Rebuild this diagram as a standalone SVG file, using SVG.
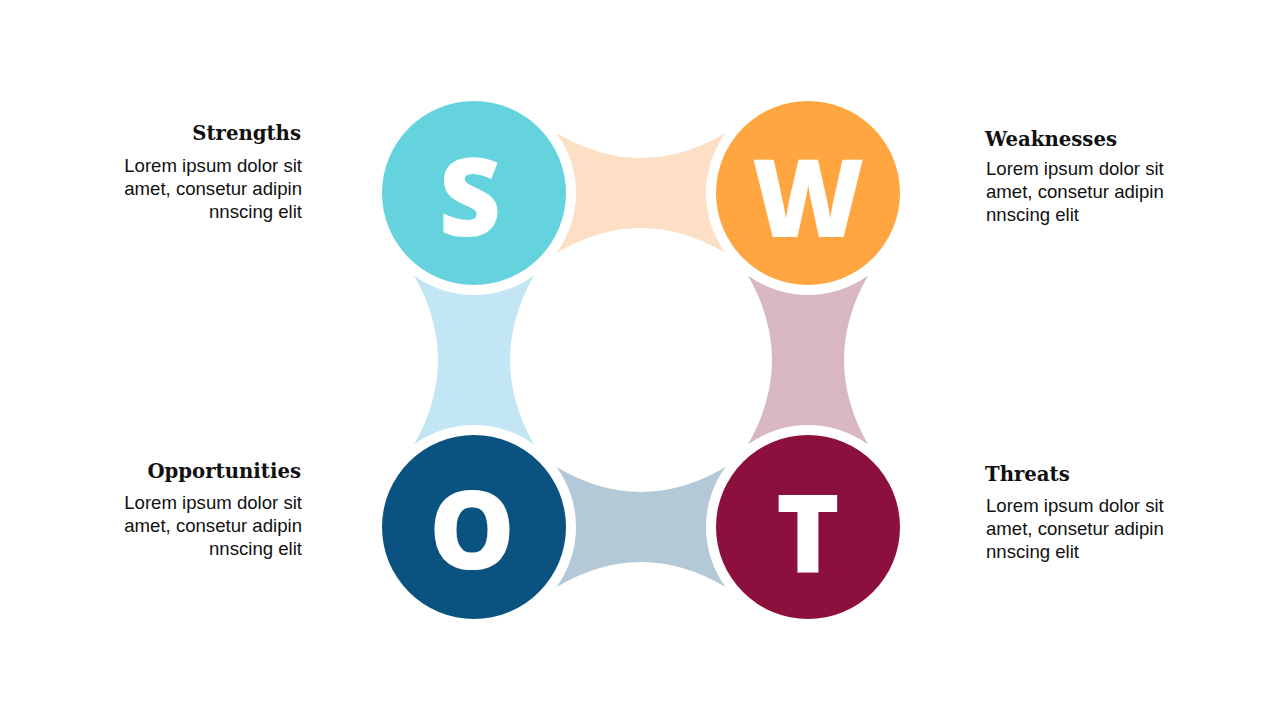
<svg xmlns="http://www.w3.org/2000/svg" width="1280" height="720" viewBox="0 0 1280 720">
<style>
.letter{font-family:"Open Sans","DejaVu Sans",sans-serif;font-weight:800;font-size:108px;fill:#ffffff;text-anchor:middle}
.title{font-family:"DejaVu Serif","Liberation Serif",serif;font-weight:700;font-size:19.7px;fill:#111111}
.body{font-family:"Liberation Sans",Arial,sans-serif;font-size:18.6px;fill:#111111}
.left{text-anchor:end}
.right{text-anchor:start}
</style>
<rect width="1280" height="720" fill="#ffffff"/>
<g id="connectors">
<path d="M556.5,133 Q641,183 725.5,133 A102,102 0 0 0 725.5,253 Q641,203 556.5,253 A102,102 0 0 0 556.5,133 Z" fill="#FCDFC4"/>
<path d="M414,275.5 A102,102 0 0 0 534,275.5 Q486,360 534,444.5 A102,102 0 0 0 414,444.5 Q462,360 414,275.5 Z" fill="#C2E6F4"/>
<path d="M748,275.5 A102,102 0 0 0 868,275.5 Q820,360 868,444.5 A102,102 0 0 0 748,444.5 Q796,360 748,275.5 Z" fill="#D9B6C4"/>
<path d="M556.5,467 Q641,517 725.5,467 A102,102 0 0 0 725.5,587 Q641,537 556.5,587 A102,102 0 0 0 556.5,467 Z" fill="#B3C9D7"/>
</g>
<g id="node-s">
<circle cx="474" cy="193" r="92" fill="#65D3DD"/>
<text class="letter" x="470" y="236">S</text>
</g>
<g id="node-w">
<circle cx="808" cy="193" r="92" fill="#FFA640"/>
<text class="letter" x="808" y="237">W</text>
</g>
<g id="node-o">
<circle cx="474" cy="527" r="92" fill="#0A5280"/>
<text class="letter" x="472" y="569">O</text>
</g>
<g id="node-t">
<circle cx="808" cy="527" r="92" fill="#8C103D"/>
<text class="letter" x="808" y="572">T</text>
</g>
<g id="label-strengths">
<text class="title left" x="301" y="140">Strengths</text>
<text class="body left" x="302" y="172">Lorem ipsum dolor sit</text>
<text class="body left" x="302" y="195">amet, consetur adipin</text>
<text class="body left" x="302" y="218">nnscing elit</text>
</g>
<g id="label-weaknesses">
<text class="title right" x="985" y="146">Weaknesses</text>
<text class="body right" x="986" y="175">Lorem ipsum dolor sit</text>
<text class="body right" x="986" y="198">amet, consetur adipin</text>
<text class="body right" x="986" y="221">nnscing elit</text>
</g>
<g id="label-opportunities">
<text class="title left" x="301" y="478">Opportunities</text>
<text class="body left" x="302" y="509">Lorem ipsum dolor sit</text>
<text class="body left" x="302" y="532">amet, consetur adipin</text>
<text class="body left" x="302" y="555">nnscing elit</text>
</g>
<g id="label-threats">
<text class="title right" x="985" y="481">Threats</text>
<text class="body right" x="986" y="512">Lorem ipsum dolor sit</text>
<text class="body right" x="986" y="535">amet, consetur adipin</text>
<text class="body right" x="986" y="558">nnscing elit</text>
</g>
</svg>
